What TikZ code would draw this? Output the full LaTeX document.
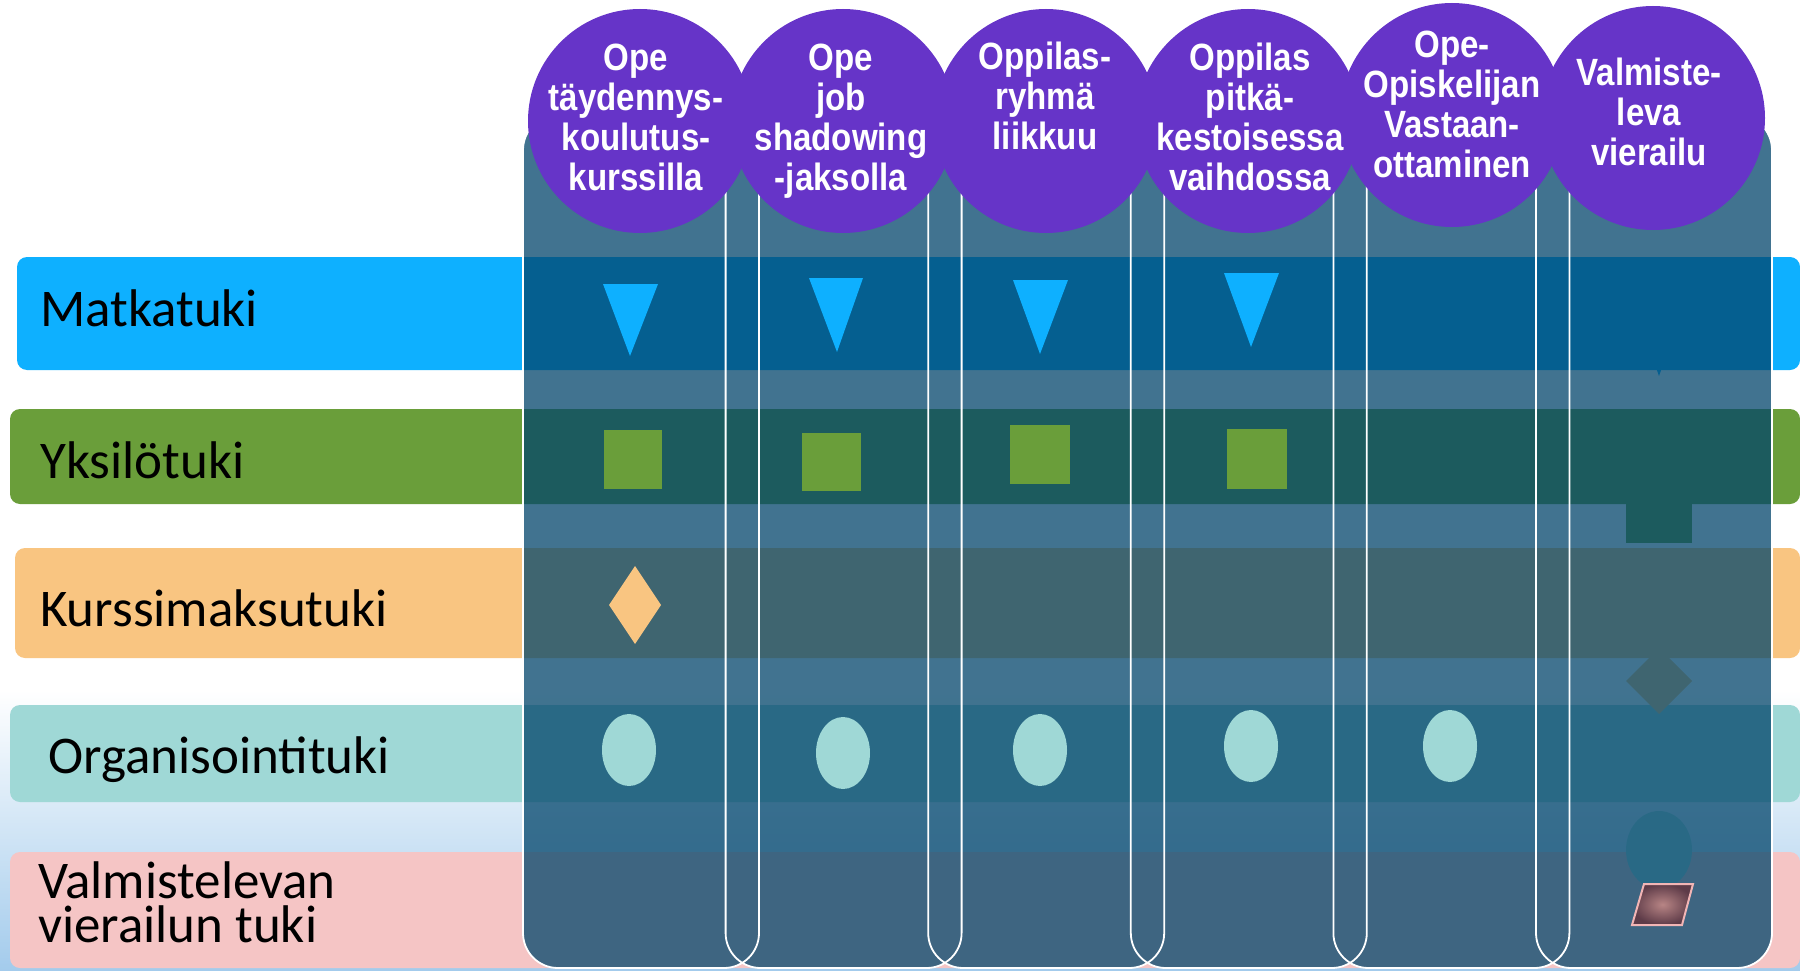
\documentclass[tikz,border=0pt]{standalone}
\usepackage{fontspec}
\setmainfont{Carlito}
\newfontfamily\ballfont[FakeStretch=0.87]{Liberation Sans}
\definecolor{matka}{HTML}{0EB0FF}
\definecolor{yksilo}{HTML}{6A9E3A}
\definecolor{kurssi}{HTML}{F9C581}
\definecolor{organ}{HTML}{9FD8D6}
\definecolor{valm}{HTML}{F5C5C5}
\definecolor{colfill}{HTML}{02456B}
\definecolor{ball}{HTML}{6634C8}
\definecolor{paradark}{HTML}{5E3B48}
\definecolor{paralight}{HTML}{B88585}
\definecolor{paraedge}{HTML}{F2B5B5}
\definecolor{bgblue}{HTML}{A3CBEC}
\begin{document}
\begin{tikzpicture}[x=1pt,y=-1pt,
    rowbar/.style={rounded corners=10pt},
    rowlabel/.style={anchor=west,inner sep=0pt,align=left,font=\fontsize{53}{44}\selectfont},
    colbox/.style={rounded corners=35pt},
    topball/.style={circle,fill=ball,minimum size=224pt,inner sep=0pt},
    balltext/.style={text=white,align=center,inner sep=0pt,font=\ballfont\bfseries\fontsize{38}{40}\selectfont}]
    \useasboundingbox (0,0) rectangle (1800,971);
    \fill[white] (0,0) rectangle (1800,971);
    \shade[top color=white,bottom color=bgblue] (0,690) rectangle (1800,971);
    % rows
    \fill[matka,rowbar] (17,257) rectangle (1800,370);
    \fill[yksilo,rowbar] (10,409) rectangle (1800,504);
    \fill[kurssi,rowbar] (15,548) rectangle (1800,658);
    \fill[organ,rowbar] (10,705) rectangle (1800,802);
    \fill[valm,rowbar] (10,852) rectangle (1800,968);
    \node[rowlabel] (matka) at (40,308) {Matkatuki};
    \node[rowlabel] (yksilo) at (40,460) {Yksilötuki};
    \node[rowlabel] (kurssi) at (40,608) {Kurssimaksutuki};
    \node[rowlabel] (organ) at (48,760) {Organisointituki};
    \node[rowlabel] (valm) at (38,902) {Valmistelevan\\vierailun tuki};
    % shapes under the last column
    \fill[matka] (1632,300) -- (1686,300) -- (1659,376) -- cycle;
    \fill[yksilo] (1626,477) rectangle (1692,543);
    \fill[kurssi] (1659,648) -- (1692,681) -- (1659,714) -- (1626,681) -- cycle;
    \fill[organ] (1659,850) ellipse [x radius=33,y radius=39];
    % columns
    \begin{scope}[transparency group,opacity=0.75]
        \foreach \i in {0,...,5}
            \fill[colfill,colbox] ({523+202.6*\i},115) rectangle ++(236,853);
    \end{scope}
    \foreach \i in {0,...,5}
        \draw[white,line width=1.8pt,colbox] ({523+202.6*\i},115) rectangle ++(236,853);
    % markers
    \fill[matka] (603,284) -- (658,284) -- (630,356) -- cycle;
    \fill[matka] (809,278) -- (863,278) -- (837,352) -- cycle;
    \fill[matka] (1013,280) -- (1068,280) -- (1040,354) -- cycle;
    \fill[matka] (1224,273) -- (1279,273) -- (1251,347) -- cycle;
    \fill[yksilo] (604,430) rectangle (662,489);
    \fill[yksilo] (802,433) rectangle (861,491);
    \fill[yksilo] (1010,425) rectangle (1070,484);
    \fill[yksilo] (1227,429) rectangle (1287,489);
    \fill[kurssi] (635,566) -- (661,605) -- (635,644) -- (609,605) -- cycle;
    \fill[organ] (629,750) ellipse [x radius=27,y radius=36];
    \fill[organ] (843,753) ellipse [x radius=27,y radius=36];
    \fill[organ] (1040,750) ellipse [x radius=27,y radius=36];
    \fill[organ] (1251,746) ellipse [x radius=27,y radius=36];
    \fill[organ] (1450,746) ellipse [x radius=27,y radius=36];
    \shade[inner color=paralight,outer color=paradark,draw=paraedge,line width=2pt]
        (1644,884) -- (1693,884) -- (1682,925) -- (1632,925) -- cycle;
    % circles
    \node[topball] (ball1) at (640,121) {};
    \node[topball] (ball2) at (843,121) {};
    \node[topball] (ball3) at (1046,121) {};
    \node[topball] (ball4) at (1248,121) {};
    \node[topball] (ball5) at (1452,115) {};
    \node[topball] (ball6) at (1653,118) {};
    \node[balltext] (txt1) at (636,117) {Ope\\täydennys-\\koulutus-\\kurssilla};
    \node[balltext] (txt2) at (841,121) {Ope\\job\\shadowing\\-jaksolla};
    \node[balltext] (txt3) at (1045,96) {Oppilas-\\ryhmä\\liikkuu};
    \node[balltext] (txt4) at (1250,117) {Oppilas\\pitkä-\\kestoisessa\\vaihdossa};
    \node[balltext] (txt5) at (1452,104) {Ope-\\Opiskelijan\\Vastaan-\\ottaminen};
    \node[balltext] (txt6) at (1649,112) {Valmiste-\\leva\\vierailu};
\end{tikzpicture}
\end{document}
